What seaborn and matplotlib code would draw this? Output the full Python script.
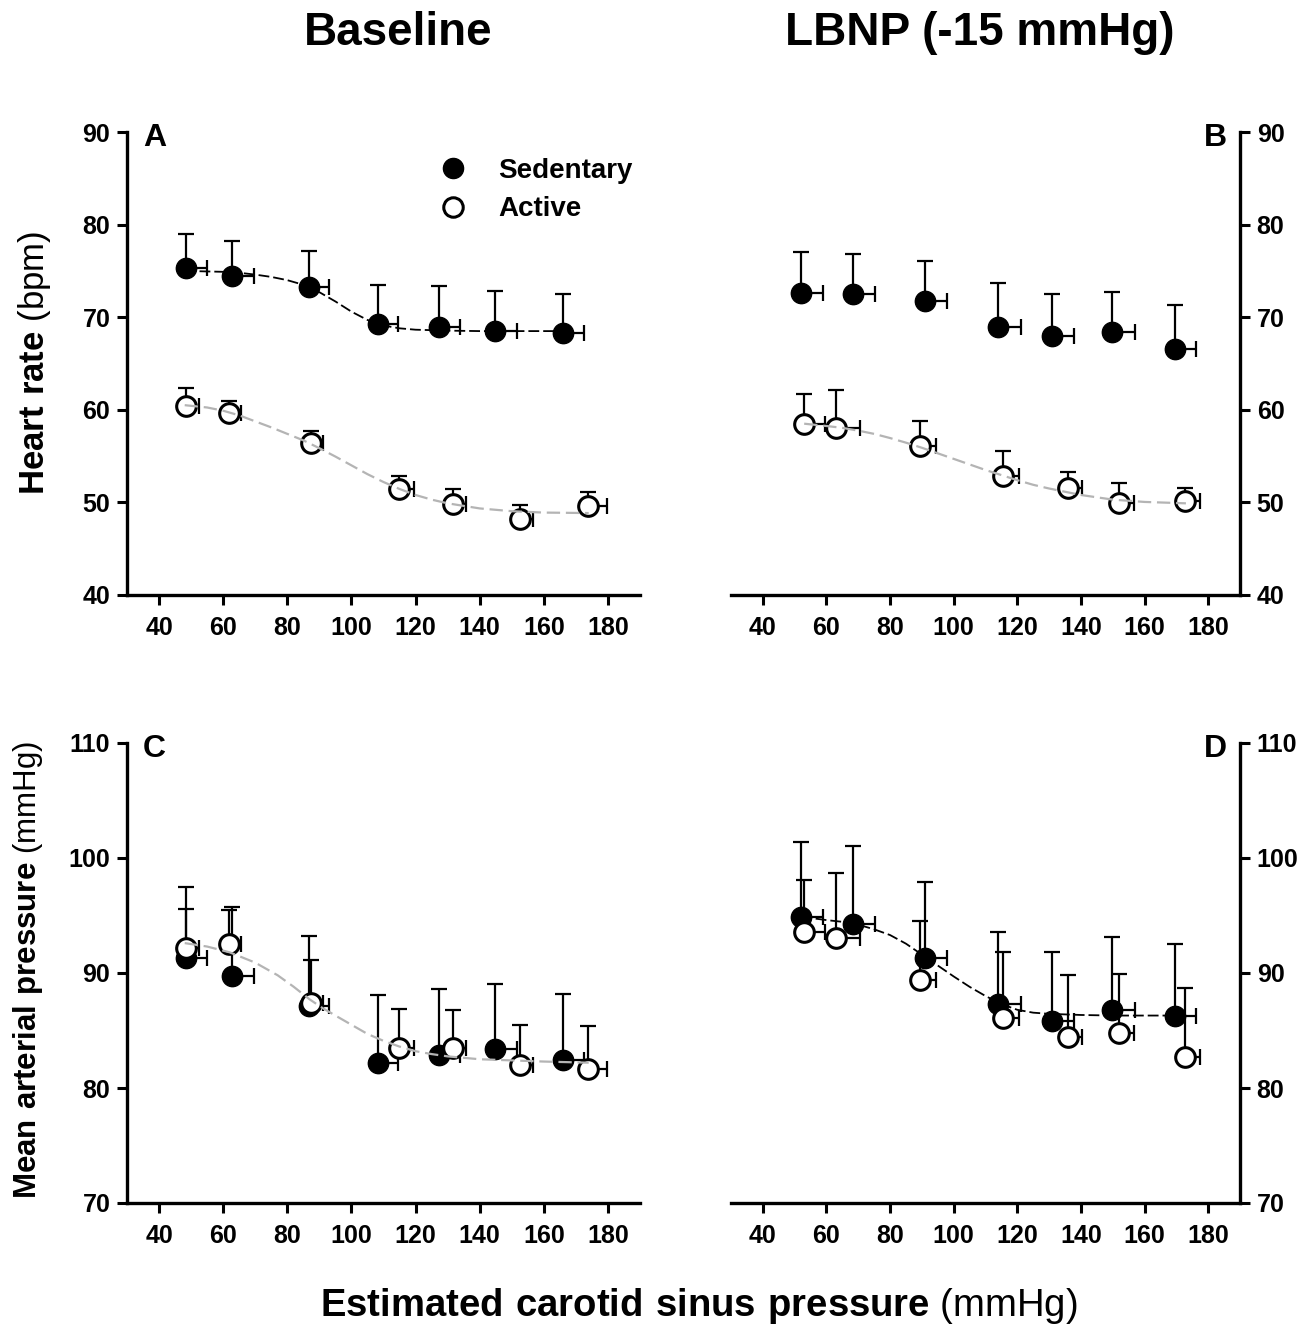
import numpy as np
import pandas as pd
import matplotlib
matplotlib.use("Agg")
import matplotlib.pyplot as plt
import seaborn as sns
from matplotlib.lines import Line2D

# ---------------- data ----------------
# Heart rate, Baseline
hr_base_sed_x = [48.3, 62.9, 86.9, 108.2, 127.3, 144.9, 166.0]
hr_base_sed_xerr = [6.8, 6.6, 6.2, 6.3, 6.7, 6.6, 6.5]
hr_base_sed_y = [75.3, 74.45, 73.3, 69.3, 68.9, 68.5, 68.3]
hr_base_sed_yerr = [3.7, 3.75, 3.8, 4.2, 4.5, 4.3, 4.2]

hr_base_act_x = [48.3, 61.7, 87.4, 114.8, 131.7, 152.5, 173.8]
hr_base_act_xerr = [4.2, 3.9, 3.6, 4.6, 4.1, 4.0, 5.8]
hr_base_act_y = [60.4, 59.7, 56.4, 51.4, 49.8, 48.2, 49.6]
hr_base_act_yerr = [2.0, 1.2, 1.3, 1.4, 1.6, 1.5, 1.5]

# Heart rate, LBNP
hr_lbnp_sed_x = [52.1, 68.2, 91.1, 113.8, 130.8, 149.9, 169.5]
hr_lbnp_sed_xerr = [6.7, 7.0, 6.7, 7.3, 7.0, 7.2, 6.7]
hr_lbnp_sed_y = [72.65, 72.5, 71.7, 68.9, 68.0, 68.45, 66.6]
hr_lbnp_sed_yerr = [4.35, 4.3, 4.4, 4.8, 4.5, 4.3, 4.7]

hr_lbnp_act_x = [52.9, 63.1, 89.3, 115.6, 135.8, 151.9, 172.6]
hr_lbnp_act_xerr = [6.7, 7.3, 5.1, 5.0, 4.5, 4.7, 4.9]
hr_lbnp_act_y = [58.5, 58.0, 56.1, 52.8, 51.6, 49.9, 50.1]
hr_lbnp_act_yerr = [3.2, 4.1, 2.7, 2.7, 1.7, 2.2, 1.5]

# Mean arterial pressure, Baseline
map_base_sed_y = [91.3, 89.7, 87.1, 82.2, 82.9, 83.35, 82.4]
map_base_sed_yerr = [6.2, 6.0, 6.1, 5.9, 5.75, 5.65, 5.8]
map_base_act_y = [92.2, 92.5, 87.4, 83.5, 83.5, 82.0, 81.65]
map_base_act_yerr = [3.4, 3.0, 3.7, 3.4, 3.3, 3.5, 3.7]

# Mean arterial pressure, LBNP
map_lbnp_sed_y = [94.9, 94.3, 91.3, 87.3, 85.8, 86.8, 86.3]
map_lbnp_sed_yerr = [6.5, 6.7, 6.6, 6.3, 6.0, 6.3, 6.2]
map_lbnp_act_y = [93.55, 93.0, 89.4, 86.1, 84.4, 84.8, 82.7]
map_lbnp_act_yerr = [4.5, 5.7, 5.1, 5.7, 5.4, 5.1, 6.0]

# fitted curves
fitA_sed_x = [48, 60, 65, 70, 75, 80, 85, 90, 95, 100, 105, 110, 115, 120, 130, 140, 150, 166]
fitA_sed_y = [75.0, 74.9, 74.8, 74.6, 74.35, 74.0, 73.5, 72.7, 71.7, 70.6, 69.7, 69.1, 68.8, 68.65, 68.55, 68.5, 68.5, 68.5]
fitA_act_x = [48, 55, 60, 65, 70, 75, 80, 85, 90, 95, 100, 105, 110, 115, 120, 125, 130, 140, 150, 160, 174]
fitA_act_y = [60.5, 60.25, 59.9, 59.4, 58.75, 58.1, 57.4, 56.7, 55.85, 54.95, 54.0, 53.05, 52.2, 51.45, 50.8, 50.3, 49.9, 49.35, 49.05, 48.9, 48.85]
fitB_act_x = [53, 60, 65, 70, 75, 80, 85, 90, 95, 100, 105, 110, 115, 120, 125, 130, 140, 150, 160, 173]
fitB_act_y = [58.5, 58.25, 58.05, 57.75, 57.4, 56.95, 56.45, 55.9, 55.3, 54.7, 54.1, 53.5, 52.95, 52.4, 51.9, 51.5, 50.8, 50.3, 50.05, 49.9]
fitC_act_x = [48, 55, 62, 70, 77, 82, 87, 91, 95, 100, 105, 110, 115, 120, 125, 130, 140, 150, 160, 174]
fitC_act_y = [92.6, 92.3, 91.8, 90.9, 89.8, 88.8, 87.7, 86.95, 86.3, 85.5, 84.7, 84.1, 83.6, 83.2, 82.95, 82.75, 82.5, 82.4, 82.3, 82.2]
fitD_sed_x = [52, 60, 65, 70, 75, 80, 85, 90, 95, 100, 105, 110, 115, 120, 125, 130, 140, 150, 170]
fitD_sed_y = [94.9, 94.6, 94.45, 94.2, 93.8, 93.3, 92.55, 91.6, 90.65, 89.7, 88.8, 88.0, 87.3, 86.8, 86.55, 86.45, 86.35, 86.3, 86.3]

x_ticks = [40, 60, 80, 100, 120, 140, 160, 180]
hr_ticks = [40, 50, 60, 70, 80, 90]
map_ticks = [70, 80, 90, 100, 110]

# ---------------- style ----------------
sns.set_theme(style="ticks")
plt.rcParams["font.family"] = ["Liberation Sans", "DejaVu Sans"]
plt.rcParams["mathtext.fontset"] = "custom"
plt.rcParams["mathtext.rm"] = "Liberation Sans"
plt.rcParams["mathtext.bf"] = "Liberation Sans:bold"
plt.rcParams["text.color"] = "black"
plt.rcParams["axes.labelcolor"] = "black"
plt.rcParams["xtick.color"] = "black"
plt.rcParams["ytick.color"] = "black"

W, H = 1313, 1331
fig = plt.figure(figsize=(W / 100, H / 100), dpi=100)


def ax_rect(l, r, t, b):
    return [l / W, 1 - b / H, (r - l) / W, (b - t) / H]


axA = fig.add_axes(ax_rect(127, 640, 132, 595))
axB = fig.add_axes(ax_rect(731, 1240, 132, 595))
axC = fig.add_axes(ax_rect(127, 640, 743, 1203))
axD = fig.add_axes(ax_rect(731, 1240, 743, 1203))

SED_DASH = (0, (6, 2.2))
ACT_DASH = (0, (6, 2.6))


def draw_group(ax, x, xerr, y, yerr, filled):
    n = len(x)
    ax.errorbar(x, y, yerr=[np.zeros(n), yerr], xerr=[np.zeros(n), xerr],
                fmt="none", ecolor="black", elinewidth=1.6, capsize=5.5,
                capthick=1.6, zorder=2)
    df = pd.DataFrame({"x": x, "y": y})
    if filled:
        sns.scatterplot(data=df, x="x", y="y", ax=ax, s=215, color="black",
                        edgecolor="black", linewidth=1.0, zorder=4, legend=False)
    else:
        sns.scatterplot(data=df, x="x", y="y", ax=ax, s=200, color="white",
                        edgecolor="black", linewidth=2.2, zorder=4, legend=False)


def draw_fit(ax, x, y, color, dash, lw):
    df = pd.DataFrame({"x": x, "y": y})
    sns.lineplot(data=df, x="x", y="y", ax=ax, color=color, linestyle=dash,
                 linewidth=lw, zorder=5, sort=False, estimator=None)


def style_axis(ax, side, yticks, ylim):
    ax.set_xlim(30, 190)
    ax.set_ylim(*ylim)
    ax.set_xticks(x_ticks)
    ax.set_yticks(yticks)
    ax.set_xlabel("")
    ax.set_ylabel("")
    for s in ["top", "left", "right", "bottom"]:
        ax.spines[s].set_visible(False)
    ax.spines["bottom"].set_visible(True)
    ax.spines[side].set_visible(True)
    for s in ["bottom", side]:
        ax.spines[s].set_linewidth(2.4)
        ax.spines[s].set_color("black")
    if side == "right":
        ax.yaxis.tick_right()
    else:
        ax.yaxis.tick_left()
    ax.tick_params(axis="both", direction="out", length=7, width=2.2,
                   colors="black", labelsize=18, pad=5)
    ax.tick_params(axis="x", pad=8)
    for lab in ax.get_xticklabels() + ax.get_yticklabels():
        lab.set_fontweight("bold")
    ax.set_facecolor("white")


# Panel A
draw_group(axA, hr_base_sed_x, hr_base_sed_xerr, hr_base_sed_y, hr_base_sed_yerr, True)
draw_group(axA, hr_base_act_x, hr_base_act_xerr, hr_base_act_y, hr_base_act_yerr, False)
draw_fit(axA, fitA_sed_x, fitA_sed_y, "black", SED_DASH, 1.3)
draw_fit(axA, fitA_act_x, fitA_act_y, "#b4b4b4", ACT_DASH, 1.6)
style_axis(axA, "left", hr_ticks, (40, 90))

# Panel B
draw_group(axB, hr_lbnp_sed_x, hr_lbnp_sed_xerr, hr_lbnp_sed_y, hr_lbnp_sed_yerr, True)
draw_group(axB, hr_lbnp_act_x, hr_lbnp_act_xerr, hr_lbnp_act_y, hr_lbnp_act_yerr, False)
draw_fit(axB, fitB_act_x, fitB_act_y, "#b4b4b4", ACT_DASH, 1.6)
style_axis(axB, "right", hr_ticks, (40, 90))

# Panel C
draw_group(axC, hr_base_sed_x, hr_base_sed_xerr, map_base_sed_y, map_base_sed_yerr, True)
draw_group(axC, hr_base_act_x, hr_base_act_xerr, map_base_act_y, map_base_act_yerr, False)
draw_fit(axC, fitC_act_x, fitC_act_y, "#b4b4b4", ACT_DASH, 1.6)
style_axis(axC, "left", map_ticks, (70, 110))

# Panel D
draw_group(axD, hr_lbnp_sed_x, hr_lbnp_sed_xerr, map_lbnp_sed_y, map_lbnp_sed_yerr, True)
draw_group(axD, hr_lbnp_act_x, hr_lbnp_act_xerr, map_lbnp_act_y, map_lbnp_act_yerr, False)
draw_fit(axD, fitD_sed_x, fitD_sed_y, "black", SED_DASH, 1.3)
style_axis(axD, "right", map_ticks, (70, 110))

# Legend in panel A
handles = [
    Line2D([], [], marker="o", linestyle="none", markersize=14.5,
           markerfacecolor="black", markeredgecolor="black"),
    Line2D([], [], marker="o", linestyle="none", markersize=14,
           markerfacecolor="white", markeredgecolor="black", markeredgewidth=2.2),
]
leg = axA.legend(handles, ["Sedentary", "Active"], loc="upper left",
                 bbox_to_anchor=((436 - 127) / 513, 1 - (158 - 132) / 463),
                 frameon=False, handletextpad=1.05, labelspacing=0.45,
                 borderaxespad=0, borderpad=0, handlelength=1.2,
                 prop={"family": "Liberation Sans", "weight": "bold", "size": 20})
for t in leg.get_texts():
    t.set_color("black")

# Panel letters
def px(x, y):
    return x / W, 1 - y / H

let_kw = dict(fontsize=23, fontweight="bold", va="top")
fig.text(*px(143, 123), "A", ha="left", **let_kw)
fig.text(*px(1227, 123), "B", ha="right", **let_kw)
fig.text(*px(143, 734), "C", ha="left", **let_kw)
fig.text(*px(1227, 734), "D", ha="right", **let_kw)

# Column titles
fig.text(*px(398, 33), "Baseline", ha="center", va="center", fontsize=33, fontweight="bold")
fig.text(*px(980, 33), "LBNP (-15 mmHg)", ha="center", va="center", fontsize=33, fontweight="bold")

# Axis labels
fig.text(*px(35, 363), r"$\mathbf{Heart\ rate}$ (bpm)", rotation=90, ha="center",
         va="center", fontsize=25)
fig.text(*px(28, 970), r"$\mathbf{Mean\ arterial\ pressure}$ (mmHg)", rotation=90,
         ha="center", va="center", fontsize=22.5)
fig.text(*px(699, 1306), r"$\mathbf{Estimated\ carotid\ sinus\ pressure}$ (mmHg)",
         ha="center", va="center", fontsize=27.5)

fig.savefig("out.png", dpi=100, facecolor="white")
